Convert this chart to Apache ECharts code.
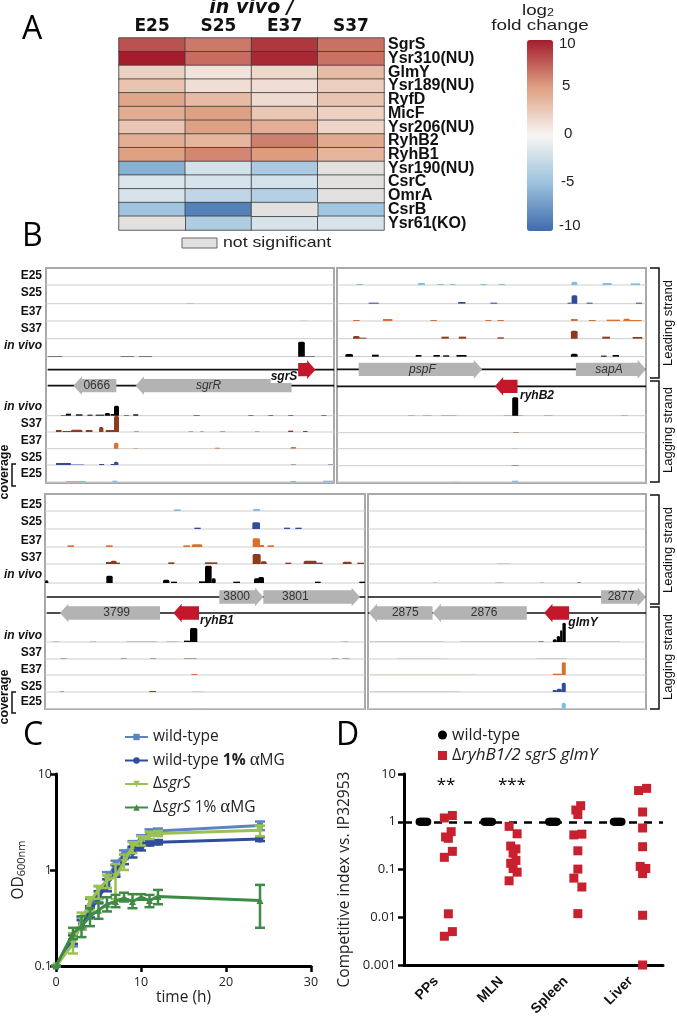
<!DOCTYPE html>
<html><head><meta charset="utf-8"><style>html,body{margin:0;background:#fff}#c{width:677px;height:1016px}</style>
<script src="https://cdn.jsdelivr.net/npm/echarts@6/dist/echarts.min.js"></script></head><body><div id="c"></div>
<script>
const ARIAL='"Liberation Sans"', MYR='"Open Sans"', WIDE='"DejaVu Sans"';
// Panel A
const heatCols=['E25','S25','E37','S37'];
const heatRows=['SgrS','Ysr310(NU)','GlmY','Ysr189(NU)','RyfD','MicF','Ysr206(NU)','RyhB2','RyhB1','Ysr190(NU)','CsrC','OmrA','CsrB','Ysr61(KO)'];
const heatVals=[[8,6.5,9,6.8],[10,7,9.6,6.8],[2.2,1,1.8,3.5],[3,1.4,1.4,2.3],[4.7,3.5,1.6,2.9],[4.3,5,2.8,2.2],[2.8,5,4.2,1.9],[4.3,3.8,6.3,4.5],[5,6,5.2,3.8],[-6,-2,-4.2,null],[-1.6,-1.8,-2,null],[-1.8,-3,-3.6,null],[-4.8,-8.8,null,-4.6],[null,-4,-1.8,-1.8]];
const scaleTicks=['10','5','0','-5','-10'];
// Panel B: tracks [track, from, to, height]; positions in genome-browser units
const trackNames=['E25','S25','E37','S37','in vivo','in vivo','S37','E37','S25','E25'];
const trackColors=['#7fc0e0','#33499b','#d8712f','#8c3a20','#000000','#000000','#8c3a20','#d8712f','#33499b','#7fc0e0'];
const basesTop=[89,145,197,250,304,481,530,580,629,680];
const basesTop2=[89,145,197,250,304,481,532,580,631,680];
const basesBottom=[64,118,172,223,280,457,508,556,607,657];
const b1Peaks=[[1,560,580,1],[2,900,925,1],[4,895,915,45],[4,915,945,2],[4,140,185,2],[4,360,400,2],[4,415,455,2],
[5,340,355,30],[5,312,328,8],[5,195,210,6],[5,225,245,4],[5,260,275,3],[5,285,310,3],[5,180,195,2],[5,330,340,5],[5,398,413,4],[5,370,385,2],[5,580,598,2],[5,745,760,2],[5,805,820,2],[5,865,880,2],[5,965,980,2],
[6,340,355,48],[6,295,308,15],[6,165,182,6],[6,210,245,7],[6,255,275,6],[6,185,210,3],[6,315,340,6],[6,400,415,2],[6,565,578,2],[6,600,610,2],[6,660,675,2],[6,765,778,2],[6,865,880,4],[6,910,923,3],
[7,340,353,18],[7,400,412,2],[7,645,658,3],[7,873,888,5],
[8,165,210,6],[8,210,250,2],[8,295,310,3],[8,340,353,10],[8,330,340,3],[8,873,888,2],[8,985,1000,2],
[9,195,255,3],[9,335,350,4],[9,872,888,3],[9,970,1000,4]];
const b2Peaks=[[0,65,85,3],[0,250,270,6],[0,308,328,3],[0,345,362,3],[0,437,456,3],[0,492,510,3],[0,710,727,10],[0,803,830,6],[0,887,915,5],
[1,102,132,3],[1,370,392,5],[1,467,487,3],[1,698,710,3],[1,710,727,25],[1,755,773,3],[1,903,921,3],
[2,55,75,3],[2,145,173,6],[2,287,306,3],[2,452,470,3],[2,488,507,3],[2,708,728,6],[2,762,782,3],[2,815,855,4],[2,865,885,7],[2,885,920,3],
[3,55,75,8],[3,75,95,3],[3,320,342,6],[3,372,394,6],[3,488,507,4],[3,708,728,24],[3,802,825,6],[3,893,922,5],
[4,32,55,8],[4,112,132,6],[4,243,260,5],[4,296,315,5],[4,325,343,4],[4,365,395,5],[4,708,728,9],[4,798,815,3],[4,833,852,5],
[5,532,550,55],[5,220,240,1],[5,265,290,1],[5,320,365,1],[5,507,565,1],[5,628,653,1],[5,858,878,1],
[6,535,552,2],[7,530,550,1],[8,530,552,2],[9,532,550,4],[9,350,370,1]];
const b3Peaks=[[0,522,542,5],[0,760,780,6],
[1,583,602,4],[1,757,780,20],[1,852,870,4],[1,886,905,4],
[2,203,222,5],[2,318,338,5],[2,550,570,5],[2,575,607,8],[2,758,780,26],[2,780,792,6],[2,803,822,5],
[3,318,340,6],[3,332,350,10],[3,345,360,4],[3,505,523,5],[3,615,652,5],[3,758,782,30],[3,782,800,8],[3,856,874,4],[3,911,950,10],[3,950,968,4],[3,1028,1055,7],[3,1072,1092,4],
[4,135,145,8],[4,319,338,22],[4,489,508,10],[4,513,531,4],[4,597,615,5],[4,615,635,52],[4,635,647,14],[4,700,720,4],[4,762,778,14],[4,775,792,18],[4,945,962,4],[4,1078,1095,4],
[5,570,592,42],[5,552,570,4],[5,158,178,1],[5,270,288,1],[5,380,470,1],[5,500,535,1],[5,1025,1045,1],
[6,182,200,2],[6,362,380,2],[6,450,468,2],[6,552,590,2],[6,995,1015,2],[6,1028,1048,2],
[7,574,592,3],[8,180,192,2],[8,448,468,3],[8,575,610,1],[9,585,620,1]];
const b4Peaks=[[3,410,450,1],[4,220,230,1],[4,405,430,1],[4,540,550,1],[4,652,662,2],
[5,578,590,8],[5,590,600,18],[5,600,607,35],[5,607,617,58],[5,535,550,2],[5,30,250,1],[5,300,530,1],[5,620,780,1],
[6,530,617,1],[6,110,260,1],[7,578,605,4],[7,605,617,38],[7,30,350,1],[8,578,590,6],[8,590,605,10],[8,605,617,28],[8,30,300,1],[9,578,605,2],[9,605,617,18]];
// genes [tail, head, rowY, kind, label, labelPos]
const b1Genes=[[875,405,391,'gi','sgrR',625],[347,218,391,'g','0666',288],[895,947,343,'r','',0]];
const b2Genes=[[72,442,342,'gi','pspF',263],[723,933,342,'gi','sapA',822],[548,480,393,'r','',0]];
const b3Genes=[[658,790,322,'g','3800',710],[790,1080,322,'g','3801',886],[480,180,370,'g','3799',350],[597,520,370,'r','',0]];
const b4Genes=[[723,858,322,'g','2877',783],[500,217,370,'g','2876',372],[217,25,370,'g','2875',135],[627,552,370,'r','',0]];
const b1Lines=[[140,1003,343],[140,1003,391]];
const b2Lines=[[7,933,342],[7,933,393]];
const b3Lines=[[140,1095,322],[140,1095,370]];
const b4Lines=[[23,858,322],[23,858,370]];
// Panel C
const cTime=[0,2,3,4,5,6,7,8,9,10,11,12,24];
const cWT=[0.1,0.18,0.28,0.42,0.58,0.8,1.15,1.45,1.85,2.1,2.5,2.55,2.9];
const cWTLow=[0.1,0.16,0.25,0.36,0.5,0.65,0.9,1.3,1.7,1.9,2.3,2.4,2.6];
const cWTHigh=[0.1,0.21,0.32,0.5,0.68,0.95,1.25,1.6,2,2.3,2.65,2.7,3.2];
const cWTM=[0.1,0.19,0.27,0.37,0.52,0.7,0.98,1.3,1.55,1.75,1.9,1.95,2.1];
const cWTMLow=[0.1,0.17,0.24,0.32,0.45,0.6,0.85,1.15,1.35,1.6,1.8,1.85,2];
const cWTMHigh=[0.1,0.21,0.3,0.42,0.6,0.8,1.12,1.45,1.75,1.9,2,2.05,2.2];
const cS=[0.1,0.17,0.3,0.47,0.62,0.78,0.85,1.2,1.75,2.05,2.3,2.4,2.6];
const cSLow=[0.1,0.135,0.24,0.37,0.5,0.65,0.5,1,1.5,1.8,2.1,2.25,2.25];
const cSHigh=[0.1,0.22,0.36,0.52,0.68,0.88,1.15,1.45,1.95,2.25,2.5,2.55,2.9];
const cSM=[0.1,0.22,0.26,0.33,0.38,0.44,0.47,0.51,0.47,0.52,0.48,0.53,0.48];
const cSMLow=[0.1,0.19,0.2,0.26,0.31,0.37,0.41,0.47,0.4,0.49,0.41,0.44,0.25];
const cSMHigh=[0.1,0.25,0.33,0.4,0.46,0.52,0.55,0.58,0.56,0.56,0.55,0.62,0.7];
// Panel D
const dTissues=['PPs','MLN','Spleen','Liver'];
const dWildOffsets=[-0.26,-0.245,-0.23,-0.215,-0.2,-0.185,-0.17,-0.155,-0.14];
const dPPs=[1.2,1.35,0.62,0.48,0.45,0.24,0.18,0.0118,0.005,0.004];
const dPPsSlot=[-1,1,0.7,-0.7,0,1,-1,0,1,-1];
const dMLN=[0.8,0.56,0.31,0.27,0.22,0.155,0.135,0.105,0.088,0.058];
const dMLNSlot=[-1,1,-0.6,0.7,0,0.7,-0.6,0,1,-1];
const dSpleen=[1.76,2.17,1.42,0.53,0.55,0.246,0.102,0.066,0.043,0.0119];
const dSpleenSlot=[-0.5,0.7,0,-1,1,0,0,-1,1,0];
const dLiver=[4.5,5,1.6,0.74,0.3,0.116,0.105,0.082,0.011,0.001];
const dLiverSlot=[-1,1,0,0,0,-0.6,0.8,0,0,0];

const heatData=[],nsData=[];
heatVals.forEach((r,i)=>r.forEach((v,j)=>{(v===null?nsData:heatData).push(v===null?[j,i,0]:[j,i,v]);}));

function T(x,y,text,font,o){o=o||{};return {type:'text',x,y,rotation:o.rot||0,scaleX:o.sx||1,z:50,style:{text,font,fill:o.fill||'#111',align:o.align||'left',verticalAlign:'middle',rich:o.rich,backgroundColor:o.bg}};}
function grid3(l,t,w,h){return {left:l,top:t,width:w,height:h,show:true,borderColor:'#a9a9a9',borderWidth:2,backgroundColor:'#fff',outerBoundsMode:'none'};}

const panels=[
 {rect:[46,268,288,215],xr:[135,1003],yr:[38,683],bases:basesTop,peaks:b1Peaks,genes:b1Genes,lines:b1Lines},
 {rect:[337,268,309,215],xr:[7,933],yr:[38,683],bases:basesTop2,peaks:b2Peaks,genes:b2Genes,lines:b2Lines},
 {rect:[45,494,320,215],xr:[135,1095],yr:[13,658],bases:basesBottom,peaks:b3Peaks,genes:b3Genes,lines:b3Lines},
 {rect:[368,494,278,215],xr:[23,858],yr:[13,658],bases:basesBottom,peaks:b4Peaks,genes:b4Genes,lines:b4Lines}
];
const grids=[{left:119,top:38,width:265,height:192,show:false,outerBoundsMode:'none'}];
const xAxes=[{type:'category',gridIndex:0,position:'top',data:heatCols,axisLine:{show:false},axisTick:{show:false},axisLabel:{fontFamily:WIDE,fontWeight:'bold',fontSize:17,color:'#111',margin:3},
  name:'in vivo /',nameLocation:'middle',nameGap:20,nameTextStyle:{fontFamily:WIDE,fontWeight:'bold',fontStyle:'italic',fontSize:19,color:'#111'}}];
const yAxes=[{type:'category',gridIndex:0,position:'right',inverse:true,data:heatRows,axisLine:{show:false},axisTick:{show:false},axisLabel:{fontFamily:ARIAL,fontWeight:'bold',fontSize:16,color:'#111',margin:4,interval:0}}];
const series=[
 {type:'heatmap',name:'fold',xAxisIndex:0,yAxisIndex:0,data:heatData,silent:true,itemStyle:{borderColor:'#3a3a3a',borderWidth:0.8}},
 {type:'heatmap',name:'ns',xAxisIndex:0,yAxisIndex:0,data:nsData,silent:true,itemStyle:{color:'#e2e1df',borderColor:'#3a3a3a',borderWidth:0.8}}
];
panels.forEach((p,k)=>{
 const i=k+1;
 grids.push(grid3(...p.rect));
 xAxes.push({type:'value',gridIndex:i,min:p.xr[0],max:p.xr[1],show:false});
 yAxes.push({type:'value',gridIndex:i,min:p.yr[0],max:p.yr[1],inverse:true,show:false});
 series.push({type:'custom',xAxisIndex:i,yAxisIndex:i,silent:true,z:2,data:p.bases.map(b=>[p.xr[0],b]),
  renderItem:(c,api)=>{const a=api.coord([p.xr[0],api.value(1)]),b=api.coord([p.xr[1],api.value(1)]);
   return {type:'line',shape:{x1:a[0],y1:a[1],x2:b[0],y2:b[1]},style:{stroke:'#cdcdcd',lineWidth:1}};}});
 series.push({type:'custom',xAxisIndex:i,yAxisIndex:i,silent:true,z:3,data:p.peaks,
  renderItem:(c,api)=>{const tr=api.value(0),x0=api.value(1),x1=api.value(2),h=api.value(3);
   const a=api.coord([x0,p.bases[tr]]),b=api.coord([x1,p.bases[tr]-h]);
   return {type:'rect',shape:{x:a[0],y:b[1],width:b[0]-a[0],height:a[1]-b[1],r:h>6?[1.5,1.5,0,0]:0},style:{fill:trackColors[tr],opacity:h<=1?0.45:(h<=2?0.65:1)}};}});
 series.push({type:'custom',xAxisIndex:i,yAxisIndex:i,silent:true,z:4,data:p.lines,
  renderItem:(c,api)=>{const a=api.coord([api.value(0),api.value(2)]),b=api.coord([api.value(1),api.value(2)]);
   return {type:'line',shape:{x1:a[0],y1:a[1],x2:b[0],y2:b[1]},style:{stroke:'#111',lineWidth:1.6}};}});
 series.push({type:'custom',xAxisIndex:i,yAxisIndex:i,silent:true,z:5,data:p.genes.map(g=>[g[0],g[1],g[2]]),
  renderItem:(c,api)=>{const g=p.genes[c.dataIndex],t=g[0],h=g[1],y=g[2],d=h>t?1:-1;
   const neck=h-d*25;const P=(x,yy)=>api.coord([x,yy]);
   const pts=[P(t,y-20),P(neck,y-20),P(neck,y-28),P(h,y),P(neck,y+28),P(neck,y+20),P(t,y+20)];
   const col=g[3]==='r'?'#c5172b':'#b3b3b3';
   const kids=[{type:'polygon',shape:{points:pts},style:{fill:col}}];
   if(g[4]){const m=P(g[5],y);kids.push({type:'text',x:m[0],y:m[1],z2:10,style:{text:g[4],font:(g[3]==='gi'?'italic ':'')+'12px '+ARIAL,fill:'#333',align:'center',verticalAlign:'middle'}});}
   return {type:'group',children:kids};}});
});
// Panel C grid=5
const axisBlack={lineStyle:{color:'#000',width:3}};
grids.push({left:56,top:774,width:255,height:192,show:false,outerBoundsMode:'none'});
xAxes.push({type:'value',gridIndex:5,min:0,max:30,interval:10,splitLine:{show:false},axisLine:{onZero:false,...axisBlack},axisTick:{length:6,lineStyle:{color:'#000',width:2.5}},
 axisLabel:{fontFamily:MYR,fontSize:12.5,color:'#222',margin:10},name:'time (h)',nameLocation:'middle',nameGap:2,nameTextStyle:{fontFamily:MYR,fontSize:15.5,color:'#222'}});
yAxes.push({type:'log',logBase:10,gridIndex:5,min:0.1,max:10,splitLine:{show:false},minorTick:{show:false},axisLine:{onZero:false,...axisBlack},axisTick:{length:6,lineStyle:{color:'#000',width:2.5}},
 axisLabel:{fontFamily:MYR,fontSize:12.5,color:'#222',margin:4,formatter:v=>String(v)},
 name:'{a|OD}{b|600nm}',nameLocation:'middle',nameRotate:90,nameGap:29,nameTextStyle:{rich:{a:{fontFamily:MYR,fontSize:15.5,color:'#222'},b:{fontFamily:MYR,fontSize:11,color:'#222',verticalAlign:'bottom'}}}});
const cSeries=[
 {name:'wild-type',c:'#5b85c0',v:cWT,lo:cWTLow,hi:cWTHigh,sym:'rect',sz:6},
 {name:'wild-type 1% αMG',c:'#2f4d9a',v:cWTM,lo:cWTMLow,hi:cWTMHigh,sym:'circle',sz:7},
 {name:'ΔsgrS',c:'#9bc251',v:cS,lo:cSLow,hi:cSHigh,sym:'triangle',sz:7,rot:180},
 {name:'ΔsgrS 1% αMG',c:'#3f8a45',v:cSM,lo:cSMLow,hi:cSMHigh,sym:'triangle',sz:7}
];
cSeries.forEach((s,k)=>{
 series.push({type:'custom',xAxisIndex:5,yAxisIndex:5,silent:true,z:5+k,clip:false,data:cTime.map((t,i)=>[t,s.lo[i],s.hi[i]]),
  renderItem:(c,api)=>{const a=api.coord([api.value(0),api.value(1)]),b=api.coord([api.value(0),api.value(2)]);const w=5;const st={stroke:s.c,lineWidth:2.5,fill:null};
   return {type:'group',children:[{type:'line',shape:{x1:a[0],y1:a[1],x2:b[0],y2:b[1]},style:st},{type:'line',shape:{x1:a[0]-w,y1:a[1],x2:a[0]+w,y2:a[1]},style:st},{type:'line',shape:{x1:b[0]-w,y1:b[1],x2:b[0]+w,y2:b[1]},style:st}]};}});
 series.push({type:'line',name:s.name,xAxisIndex:5,yAxisIndex:5,z:5+k,clip:false,silent:true,data:cTime.map((t,i)=>[t,s.v[i]]),symbol:s.sym,symbolSize:s.sz,symbolRotate:s.rot||0,showSymbol:true,lineStyle:{color:s.c,width:3},itemStyle:{color:s.c}});
});
// Panel D grid=6
grids.push({left:404,top:774,width:259,height:191,show:false,outerBoundsMode:'none'});
xAxes.push({type:'category',gridIndex:6,data:dTissues,axisLine:{onZero:false,...axisBlack},axisTick:{alignWithLabel:true,length:6,lineStyle:{color:'#000',width:2.5}},
 axisLabel:{fontFamily:ARIAL,fontWeight:'bold',fontSize:14,color:'#111',rotate:45,margin:14,interval:0}});
xAxes.push({type:'value',gridIndex:6,min:0,max:4,show:false});
yAxes.push({type:'log',logBase:10,gridIndex:6,min:0.001,max:10,splitLine:{show:false},minorTick:{show:false},axisLine:{onZero:false,...axisBlack},axisTick:{length:6,lineStyle:{color:'#000',width:2.5}},
 axisLabel:{fontFamily:MYR,fontSize:13,color:'#222',margin:8,formatter:v=>String(+v.toPrecision(3))},
 name:'Competitive index vs. IP32953',nameLocation:'middle',nameRotate:90,nameGap:51,nameTextStyle:{fontFamily:MYR,fontSize:15.5,color:'#222',padding:[0,20,0,0]}});
const redPts=[];
[[dPPs,dPPsSlot],[dMLN,dMLNSlot],[dSpleen,dSpleenSlot],[dLiver,dLiverSlot]].forEach((a,i)=>a[0].forEach((v,j)=>redPts.push([i+0.685+a[1][j]*0.062,v])));
const wildPts=[];dTissues.forEach((t,i)=>dWildOffsets.forEach(o=>wildPts.push([i+0.5+o,1])));
series.push({type:'scatter',name:'wild-type\u00a0',xAxisIndex:7,yAxisIndex:6,z:6,silent:true,data:wildPts,symbol:'circle',symbolSize:8,itemStyle:{color:'#000',opacity:1},
 markLine:{silent:true,symbol:'none',label:{show:false},lineStyle:{color:'#000',type:[8,7],width:2.5},data:[{yAxis:1}]}});
series.push({type:'scatter',name:'ΔryhB1/2 sgrS glmY',xAxisIndex:7,yAxisIndex:6,z:7,silent:true,clip:false,data:redPts,symbol:'rect',symbolSize:9,itemStyle:{color:'#c8202e',opacity:1}});

const g=[];
[['A',22,30],['B',22,237],['C',23,736],['D',336,736]].forEach(a=>g.push(T(a[1],a[2],a[0],'32px '+MYR,{fill:'#000'})));
g.push(T(538,11,'{a|log}{b|2}','15px '+ARIAL,{align:'center',sx:1.25,rich:{a:{font:'15px '+ARIAL,fill:'#222'},b:{font:'10px '+ARIAL,fill:'#222',verticalAlign:'bottom'}}}));
g.push(T(540,26,'fold change','15px '+ARIAL,{align:'center',sx:1.26,fill:'#222'}));
[[559,44],[562,86],[564,134],[561,182],[559,226]].forEach((p,i)=>g.push(T(p[0],p[1],scaleTicks[i],'15px '+ARIAL,{fill:'#222'})));
g.push({type:'rect',shape:{x:182,y:238,width:35,height:10},z:50,style:{fill:'#e2e1df',stroke:'#666',lineWidth:1}});
g.push(T(223,243,'not significant','15px '+ARIAL,{fill:'#222',sx:1.18}));
const labY1=[276,293,312,329,346,407,424,441,458,474],labY2=[505,522,541,558,575,636,653,670,687,702];
[labY1,labY2].forEach(ys=>ys.forEach((y,i)=>g.push(T(42,y,trackNames[i],(trackNames[i]==='in vivo'?'italic ':'')+'bold 12px '+ARIAL,{align:'right',fill:'#111'}))));
[['sgrS',284,377,true],['ryhB2',537,396,false],['ryhB1',217,621,false],['glmY',583,623,false]].forEach(a=>g.push(T(a[1],a[2],a[0],'italic bold 12px '+ARIAL,{align:'center',fill:'#111',bg:a[3]?'#fff':undefined})));
function br(x,y0,y1,side){const e=side==='r'?x-9:x+4;g.push({type:'polyline',z:50,shape:{points:[[e,y0],[x,y0],[x,y1],[e,y1]]},style:{stroke:'#111',lineWidth:1.5,fill:null}});}
br(659,268,378,'r');br(659,381,482,'r');br(659,495,604,'r');br(659,607,709,'r');
br(12,464,486,'l');br(12,692,713,'l');
[['Leading strand',668,323],['Lagging strand',668,430],['Leading strand',668,550],['Lagging strand',668,657]].forEach(a=>g.push(T(a[1],a[2],a[0],'13px '+ARIAL,{align:'center',rot:Math.PI/2,fill:'#111'})));
[472,697].forEach(y=>g.push(T(5,y,'coverage','bold 12.5px '+ARIAL,{align:'center',rot:Math.PI/2,fill:'#111'})));
g.push(T(446,785,'**','17px '+MYR,{align:'center',fill:'#000'}));
g.push(T(512,785,'***','17px '+MYR,{align:'center',fill:'#000'}));

const richC={t:{fontFamily:MYR,fontSize:15.5,color:'#222',lineHeight:18},b:{fontFamily:MYR,fontSize:15.5,fontWeight:'bold',color:'#222',lineHeight:18},i:{fontFamily:MYR,fontSize:15.5,fontStyle:'italic',color:'#222',lineHeight:18},g:{fontFamily:'"Liberation Serif"',fontSize:19,color:'#222',lineHeight:18}};
const richD={t:{fontFamily:MYR,fontSize:16,color:'#222',lineHeight:18},i:{fontFamily:MYR,fontSize:17,fontStyle:'italic',color:'#222',lineHeight:18}};
const option={animation:false,backgroundColor:'#fff',grid:grids,xAxis:xAxes,yAxis:yAxes,series,graphic:{elements:g},
 visualMap:{type:'continuous',seriesIndex:0,min:-10,max:10,left:527,top:40,itemWidth:26,itemHeight:191,padding:0,calculable:false,showLabel:false,hoverLink:false,text:null,
  inRange:{color:['#3f6cad','#9cc2de','#f7f5f3','#dfa183','#a31d2d']}},
 legend:[
  {left:119,top:724,orient:'vertical',itemWidth:23,itemHeight:8,itemGap:6,selectedMode:false,data:cSeries.map(s=>s.name),textStyle:{rich:richC,fontFamily:MYR,fontSize:15.5,color:'#222'},
   formatter:n=>({'wild-type':'{t|wild-type}','wild-type 1% αMG':'{t|wild-type }{b|1%}{t| }{g|α}{t|MG}','ΔsgrS':'{t|Δ}{i|sgrS}','ΔsgrS 1% αMG':'{t|Δ}{i|sgrS}{t| 1% }{g|α}{t|MG}'}[n])},
  {left:433,top:722,orient:'vertical',itemWidth:9,itemHeight:9,itemGap:4,selectedMode:false,data:[{name:'wild-type\u00a0',icon:'circle'},{name:'ΔryhB1/2 sgrS glmY',icon:'rect'}],
   textStyle:{rich:richD,fontFamily:MYR,fontSize:15.5,color:'#222'},
   formatter:n=>n.startsWith('wild')?'{t|wild-type}':'{t|Δ}{i|ryhB1/2 sgrS glmY}'}
 ]};
echarts.init(document.getElementById('c'),null,{renderer:'canvas'}).setOption(option);
</script></body></html>
